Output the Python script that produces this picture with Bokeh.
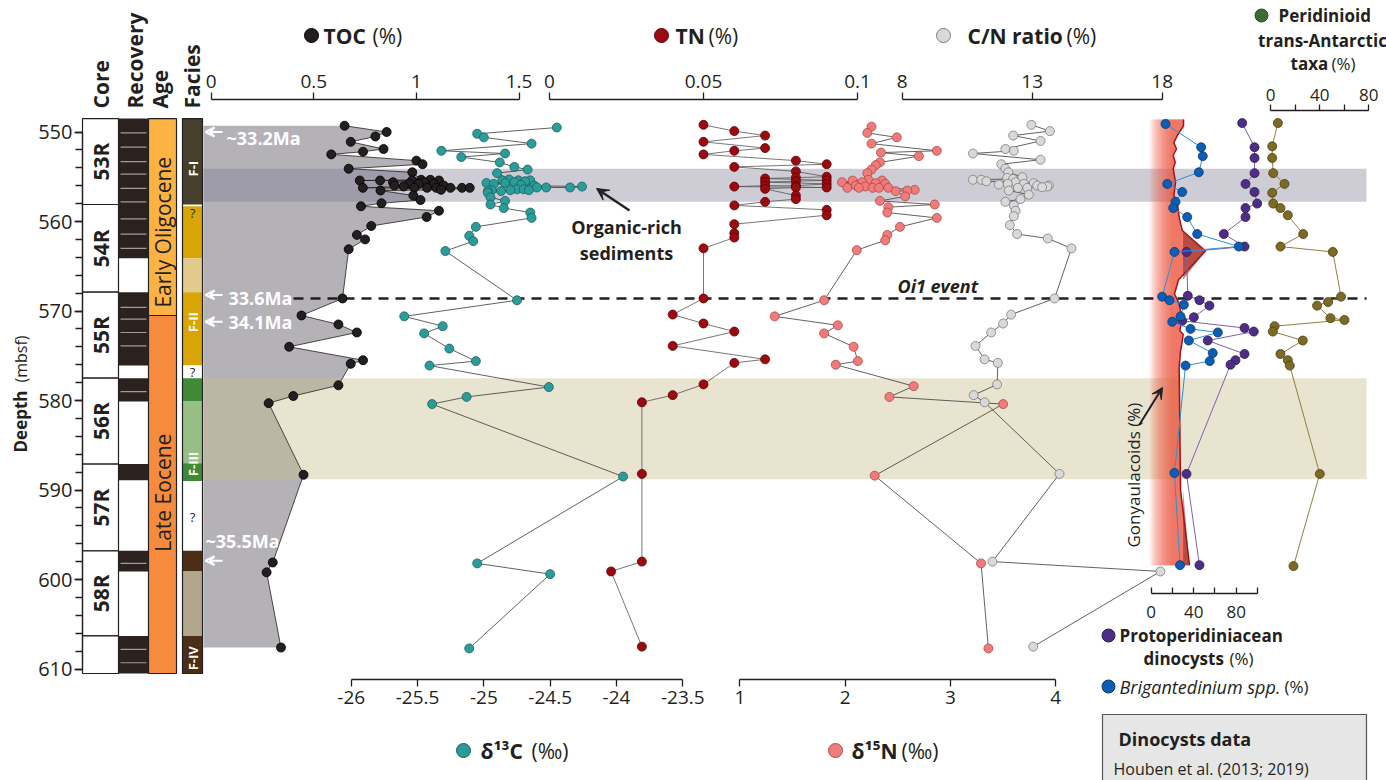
import numpy as np
from bokeh.plotting import figure
from bokeh.models import (Range1d, LinearAxis, FixedTicker, NumeralTickFormatter,
                          SingleIntervalTicker, Arrow, VeeHead)
from bokeh.core.properties import value
from bokeh.embed import file_html
from bokeh.resources import INLINE

# ---------------------------------------------------------------- data
toc_depth = [549.3, 550.0, 550.5, 551.1, 551.9, 552.2, 552.5, 553.2, 553.6, 554.1, 554.5,
             555.34, 555.34, 555.42, 555.42, 555.42, 555.42, 555.61, 555.61, 555.79, 555.79, 555.79,
             555.98, 555.98, 556.09, 556.24, 556.24, 556.24, 556.24, 556.24, 556.24, 556.24, 556.46, 556.54,
             557.1, 557.6, 557.96, 558.3, 558.8, 559.5, 560.5, 561.5, 562.0, 563.1, 568.6, 570.5, 571.5,
             572.4, 574.0, 575.5, 575.9, 578.3, 579.5, 580.3, 588.3, 598.1, 599.2, 607.6]
toc_val = [0.65, 0.855, 0.80, 0.68, 0.84, 0.74, 0.585, 1.00, 1.03, 0.67, 0.98,
           1.023, 1.068, 0.724, 0.823, 0.979, 1.110, 0.886, 1.039, 0.963, 1.011, 1.084,
           0.893, 1.133, 0.938, 0.739, 0.990, 1.052, 1.097, 1.166, 1.222, 1.260, 1.120, 0.825,
           0.985, 1.02, 0.83, 0.73, 1.11, 1.05, 0.78, 0.71, 0.75, 0.67, 0.64, 0.44, 0.62,
           0.71, 0.38, 0.74, 0.68, 0.62, 0.40, 0.28, 0.45, 0.30, 0.27, 0.34]

d13c_depth = [549.5, 550.2, 550.6, 551.3, 552.1, 552.4, 552.8, 553.4, 553.9, 554.2, 554.6,
              555.3, 555.4, 555.4, 555.4, 555.5, 555.6, 555.7, 555.7, 555.8, 555.9, 556.0, 556.1,
              556.2, 556.2, 556.2, 556.4, 556.4, 556.5, 556.5, 556.5, 556.6, 556.6,
              556.8, 557.3, 557.7, 558.1, 558.5, 559.0, 559.6, 560.6, 561.6, 562.2, 563.3, 568.8,
              570.6, 571.7, 572.5, 574.2, 575.6, 576.1, 578.5, 579.6, 580.4, 588.5, 598.2, 599.4, 607.7]
d13c_val = [-24.45, -25.05, -25.00, -24.64, -25.32, -24.84, -25.17, -24.88, -24.77, -24.67, -24.90,
            -24.81, -24.86, -24.74, -24.65, -24.69, -24.77, -24.98, -24.84, -24.925, -24.72, -24.62, -24.26,
            -24.35, -24.60, -24.53, -24.75, -24.70, -24.94, -24.80, -24.66, -24.97, -24.87,
            -24.97, -24.95, -24.84, -24.95, -24.85, -24.65, -24.64, -25.06, -25.11, -25.08, -25.29, -24.75,
            -25.60, -25.31, -25.45, -25.26, -25.06, -25.41, -24.51, -25.13, -25.39, -23.95, -25.05, -24.50, -25.11]

tn_depth = [549.2, 549.9, 550.4, 551.1, 551.8, 552.1, 552.5, 553.2, 553.6, 553.9, 554.4, 555.0,
            555.1, 555.2, 555.4, 555.5, 555.6, 555.8, 556.0, 556.0, 556.1, 556.2, 556.2, 556.35,
            557.1, 557.5, 557.8, 558.2, 558.7, 559.3, 560.3, 561.3, 561.8, 563.0, 568.6, 570.4,
            571.4, 572.3, 573.9, 575.4, 575.8, 578.2, 579.4, 580.2, 588.2, 598.0, 599.1, 607.5]
tn_val = [0.05, 0.06, 0.07, 0.05, 0.07, 0.06, 0.05, 0.08, 0.09, 0.06, 0.08, 0.09,
          0.08, 0.07, 0.09, 0.08, 0.07, 0.09, 0.08, 0.07, 0.06, 0.09, 0.08, 0.07,
          0.08, 0.08, 0.07, 0.06, 0.09, 0.09, 0.06, 0.06, 0.06, 0.05, 0.05, 0.04,
          0.05, 0.06, 0.04, 0.07, 0.06, 0.05, 0.04, 0.03, 0.03, 0.03, 0.02, 0.03]

d15n_depth = [549.4, 550.1, 550.6, 551.3, 552.1, 552.3, 552.7, 553.4, 553.7, 554.2, 554.6,
              555.34, 555.42, 555.42, 555.61, 555.61, 555.72, 555.79, 555.98, 556.09, 556.24, 556.24,
              556.24, 556.24, 556.24, 556.46, 556.54, 556.61,
              557.2, 557.7, 558.1, 558.4, 559.0, 559.6, 560.6, 561.5, 562.1, 563.2, 568.8, 570.6,
              571.6, 572.5, 574.0, 575.6, 576.0, 578.4, 579.6, 580.4, 588.4, 598.2, 607.7]
d15n_val = [2.25, 2.21, 2.49, 2.25, 2.87, 2.34, 2.70, 2.33, 2.29, 2.25, 2.21,
            2.22, 2.07, 2.35, 1.97, 2.16, 2.29, 2.38, 2.10, 2.19, 2.02, 2.13,
            2.26, 2.32, 2.41, 2.66, 2.59, 2.48,
            2.57, 2.33, 2.85, 2.41, 2.40, 2.87, 2.52, 2.40, 2.38, 2.11, 1.80, 1.33,
            1.93, 1.80, 2.08, 2.12, 1.91, 2.65, 2.42, 3.50, 2.28, 3.29, 3.36]

cn_depth = [549.2, 549.9, 550.4, 551.0, 551.9, 552.1, 552.4, 553.1, 553.6, 554.1, 554.5,
            555.05, 555.13, 555.24, 555.34, 555.34, 555.5, 555.61, 555.72, 555.79, 555.79, 555.87,
            555.98, 555.98, 556.09, 556.17, 556.24, 556.24, 556.54,
            557.0, 557.5, 557.8, 558.2, 558.8, 559.4, 560.4, 561.4, 561.9, 563.0, 568.6, 570.4,
            571.4, 572.4, 573.9, 575.4, 575.8, 578.2, 579.4, 580.2, 588.2, 598.0, 599.1, 607.5]
cn_val = [12.97, 13.68, 12.27, 13.32, 11.97, 12.29, 10.72, 13.32, 11.81, 11.97, 12.08,
          12.62, 12.04, 12.27, 10.72, 11.04, 11.24, 12.36, 13.06, 12.06, 12.68, 11.72,
          13.19, 13.64, 13.58, 13.38, 12.45, 12.81, 12.10,
          12.87, 12.55, 11.97, 12.29, 12.36, 12.29, 12.14, 12.42, 13.60, 14.51, 13.86, 12.19,
          11.88, 11.42, 10.82, 11.17, 11.68, 11.65, 10.75, 11.17, 14.05, 11.47, 17.93, 13.04]

proto_depth = [549.0, 551.7, 552.9, 554.6, 555.8, 556.7, 558.0, 558.5, 559.5, 561.4, 562.8, 563.4,
               568.3, 568.8, 569.4, 570.7, 571.1, 571.9, 572.3, 573.3, 574.8, 575.5, 576.0, 588.2, 598.4]
proto_val = [85.6, 97.2, 97.2, 97.2, 88.7, 97.2, 99.7, 88.7, 88.7, 68.3, 87.8, 33.2,
             34.4, 45.4, 54.8, 40.1, 29.2, 87.8, 96.5, 53.2, 87.8, 79.3, 74.6, 33.2, 45.4]

brig_depth = [549.1, 551.7, 552.7, 554.5, 555.8, 556.7, 557.8, 558.5, 559.5, 561.4, 562.8, 563.4,
              568.4, 568.8, 569.3, 570.6, 571.2, 572.0, 572.4, 573.3, 574.7, 575.6, 576.1, 588.1, 598.4]
brig_val = [13.5, 47.0, 48.5, 44.8, 15.1, 29.2, 22.9, 20.7, 33.9, 43.3, 82.4, 21.9,
            10.3, 17.2, 30.7, 27.6, 19.8, 37.0, 62.7, 35.4, 57.9, 55.1, 32.3, 21.9, 27.1]

peri_depth = [549.0, 551.6, 552.9, 554.6, 555.8, 556.8, 558.0, 558.5, 559.3, 561.4, 562.8, 563.4,
              568.4, 569.0, 569.4, 570.8, 571.0, 571.7, 572.3, 573.3, 574.8, 575.5, 576.1, 588.2, 598.5]
peri_val = [6.0, 1.4, 1.4, 2.2, 11.4, 1.4, 2.2, 8.1, 14.1, 26.6, 8.1, 50.7,
            57.4, 46.9, 37.9, 48.8, 60.2, 3.3, 1.9, 26.3, 8.1, 14.1, 15.7, 40.1, 18.7]

gony_depth = [548.6, 549.3, 550.4, 551.2, 551.9, 552.6, 553.4, 554.1, 555.6, 557.1, 557.8, 559.3,
              560.2, 561.0, 563.3, 566.5, 568.1, 569.1, 570.9, 572.2, 572.6, 573.4, 574.5, 576.3,
              590.0, 598.4]
gony_val = [30.4, 30.4, 24.5, 21.3, 23.8, 20.7, 22.6, 20.7, 22.9, 21.3, 24.5, 26.0,
            27.6, 29.2, 51.1, 25.7, 21.9, 26.0, 29.2, 26.9, 30.1, 29.2, 27.6, 26.3,
            27.6, 36.0]

# core / lithology columns
core_names = ["53R", "54R", "55R", "56R", "57R", "58R", ""]
core_top = [548.5, 558.1, 567.9, 577.5, 587.1, 596.8, 606.3]
core_bot = [558.1, 567.9, 577.5, 587.1, 596.8, 606.3, 610.5]
recov_top = [548.5, 567.9, 577.5, 587.1, 596.8, 606.3]
recov_bot = [564.1, 576.1, 580.1, 588.9, 599.1, 610.5]
section_breaks = [550.1, 551.7, 553.3, 554.7, 556.3, 557.8, 559.7, 561.4, 563.0,
                  569.6, 570.9, 572.4, 573.9, 579.0, 598.2, 607.8, 609.3]
age_names = ["Early Oligocene", "Late Eocene"]
age_top = [548.5, 570.5]
age_bot = [570.5, 610.5]
age_label_depth = [561.2, 590.3]
age_colors = ["#fdb344", "#f68b3d"]
facies_top = [548.5, 558.3, 564.1, 567.9, 576.1, 577.5, 580.1, 587.0, 589.0, 596.8, 599.1, 606.3]
facies_bot = [558.1, 564.1, 567.9, 576.1, 577.5, 580.1, 587.0, 589.0, 596.8, 599.1, 606.3, 610.5]
facies_colors = ["#463f2b", "#d9a406", "#e2c98c", "#d9a406", "#ffffff", "#3f8b35", "#95bf84",
                 "#3f8b35", "#ffffff", "#4b2f15", "#b2a68f", "#4b2f15"]
facies_names = ["F-I", "F-II", "F-III", "F-IV"]
facies_name_depth = [554.1, 571.25, 587.1, 608.8]
facies_unknown_depth = [559.0, 576.8, 593.0]
ma_labels = ["~33.2Ma", "33.6Ma", "34.1Ma", "~35.5Ma"]
ma_depth = [550.0, 568.2, 571.2, 597.9]
organic_band = (554.1, 557.8)
beige_band = (577.5, 588.8)
oi1_depth = 568.6

# ---------------------------------------------------------------- layout helpers
FONT = "Open Sans"
INK = "#231f20"
FX0, FX1 = 0.0, 1386.0          # frame (reference pixel columns)
FY0, FY1 = 0.0, 780.0           # frame (reference pixel rows)
Y550, PPM = 131.5, 8.95


def D(py):
    return 550.0 + (py - Y550) / PPM


def track(v0, p0, v1, p1):
    k = (p1 - p0) / (v1 - v0)
    return Range1d(start=v0 + (FX0 - p0) / k, end=v0 + (FX1 - p0) / k)


p = figure(width=1386, height=780, x_range=Range1d(FX0, FX1), y_range=Range1d(D(FY1), D(FY0)),
           output_backend="svg", toolbar_location=None, x_axis_location=None, y_axis_location=None,
           min_border_left=0, min_border_right=0, min_border_top=0, min_border_bottom=0)
p.outline_line_color = None
p.grid.visible = False
p.background_fill_color = "white"

p.extra_x_ranges = {
    "toc": track(0, 210.7, 1.5, 518.5),
    "d13c": track(-26, 350.7, -23.5, 682.3),
    "tn": track(0, 549.0, 0.1, 857.0),
    "d15n": track(1, 739.4, 4, 1055.3),
    "cn": track(8, 901.7, 18, 1161.7),
    "dino": track(0, 1150.7, 100, 1257.0),
    "peri": track(0, 1270.0, 80, 1368.3),
}


def txt(x, py, s, size, style="normal", color=INK, align="left", baseline="middle", angle=0.0):
    p.text(x=[x], y=[D(py)], text=[s], text_font=value(FONT), text_font_size=f"{size}px",
           text_font_style=style, text_color=color, text_align=align, text_baseline=baseline,
           angle=angle)


def add_axis(rng, side, loc_py, ticks, minor, bounds, size, tick_in=0, tick_out=7, standoff=4):
    ax = LinearAxis(x_range_name=rng, fixed_location=D(loc_py), bounds=bounds,
                    ticker=FixedTicker(ticks=ticks, minor_ticks=minor),
                    formatter=NumeralTickFormatter(format="0.[00]"),
                    axis_line_color=INK, axis_line_width=1.3,
                    major_tick_line_color=INK, major_tick_line_width=1.3,
                    minor_tick_line_color=INK, minor_tick_line_width=1.3,
                    major_tick_in=tick_in, major_tick_out=tick_out,
                    minor_tick_in=tick_in, minor_tick_out=tick_out,
                    major_label_text_font=FONT, major_label_text_font_size=f"{size}px",
                    major_label_text_color=INK, major_label_standoff=standoff)
    p.add_layout(ax, side)


# ---------------------------------------------------------------- background fills
p.harea(x1=-0.0375, x2=toc_val, y=toc_depth, x_range_name="toc", fill_color="#b4b2b7")
p.quad(left=203, right=1366, top=organic_band[0], bottom=organic_band[1],
       fill_color="#77758c", fill_alpha=0.36, line_color=None)
p.quad(left=203, right=1366, top=beige_band[0], bottom=beige_band[1],
       fill_color="#c8be8c", fill_alpha=0.42, line_color=None)

# Gonyaulacoids area with soft gradient
for s in [-1, 1, 3, 5, 7, 9, 11, 13, 15, 17, 19]:
    p.harea(x1=s, x2=gony_val, y=gony_depth, x_range_name="dino",
            fill_color="#f0563e", fill_alpha=0.13)
p.harea(x1=30, x2=np.maximum(np.array(gony_val), 30), y=gony_depth, x_range_name="dino",
        fill_color="#8a2a24", fill_alpha=0.55)
p.line(gony_val, gony_depth, x_range_name="dino", line_color="#a3141a", line_width=1.5)

# Oi1 dashed line
p.segment(x0=[293], x1=[1366], y0=[oi1_depth], y1=[oi1_depth], line_color=INK,
          line_width=2.6, line_dash="10 7")

# ---------------------------------------------------------------- left columns
p.quad(left=82, right=118, top=core_top, bottom=core_bot, fill_color="white",
       line_color=INK, line_width=1.2)
p.quad(left=118, right=148, top=recov_top, bottom=recov_bot, fill_color="#2b2220",
       line_color=None)
p.segment(x0=120, x1=146, y0=section_breaks, y1=section_breaks, line_color="#9d9d9d",
          line_width=1.2)
p.quad(left=148, right=176, top=age_top, bottom=age_bot, fill_color=age_colors,
       line_color=INK, line_width=1.2)
p.quad(left=182, right=202, top=facies_top, bottom=facies_bot, fill_color=facies_colors,
       line_color=None)
p.quad(left=[182], right=[202], top=[548.5], bottom=[610.5], fill_color=None,
       line_color=INK, line_width=1.2)

core_mid = [(a + b) / 2 for a, b in zip(core_top, core_bot)]
p.text(x=100, y=core_mid, text=core_names, text_font=value(FONT), text_font_size="21px",
       text_font_style="bold", text_color=INK, text_align="center", text_baseline="middle",
       angle=np.pi / 2)
p.text(x=162, y=age_label_depth, text=age_names, text_font=value(FONT), text_font_size="21px",
       text_color=INK, text_align="center", text_baseline="middle", angle=np.pi / 2)
p.text(x=192, y=facies_name_depth, text=facies_names, text_font=value(FONT),
       text_font_size="13px", text_font_style="bold", text_color="white", text_align="center",
       text_baseline="middle", angle=np.pi / 2)
p.text(x=192, y=facies_unknown_depth, text=["?"] * 3, text_font=value(FONT),
       text_font_size="13px", text_color=INK, text_align="center", text_baseline="middle")

# headers
for xh, lab in [(100, "Core"), (134, "Recovery"), (159, "Age"), (191, "Facies")]:
    txt(xh, 108, lab, 21, "bold", angle=np.pi / 2)

# depth axis
yax = LinearAxis(fixed_location=82, bounds=(550, 610),
                 ticker=SingleIntervalTicker(interval=10, num_minor_ticks=5),
                 axis_line_color=INK, axis_line_width=1.3,
                 major_tick_line_color=INK, major_tick_line_width=1.3,
                 minor_tick_line_color=INK, minor_tick_line_width=1.3,
                 major_tick_in=0, major_tick_out=8, minor_tick_in=0, minor_tick_out=7,
                 major_label_text_font=FONT, major_label_text_font_size="20px",
                 major_label_text_color=INK, major_label_standoff=2)
p.add_layout(yax, "left")
txt(20, 452, "Deepth", 17, "bold", angle=np.pi / 2)
txt(20, 382, "(mbsf)", 16, angle=np.pi / 2)

# age ties (white arrows)
ma_text_pos = [(226, 137), (228, 297), (228, 321), (205, 540)]
for d, lab, (tx, ty) in zip(ma_depth, ma_labels, ma_text_pos):
    p.add_layout(Arrow(end=VeeHead(size=9, line_color="white", line_width=2, fill_color=None),
                       x_start=222, x_end=205, y_start=d, y_end=d,
                       line_color="white", line_width=2))
    txt(tx, ty, lab, 18, "bold", color="white")

# ---------------------------------------------------------------- series
LINE = "#3a3a3a"


def series(xv, yv, rng, fill, edge, line_color=LINE, lw=0.8, size=9):
    p.line(xv, yv, x_range_name=rng, line_color=line_color, line_width=lw)
    p.scatter(xv, yv, x_range_name=rng, size=size, fill_color=fill, line_color=edge,
              line_width=0.8)


series(toc_val, toc_depth, "toc", "#231f20", "#000000", line_color="#231f20")
series(d13c_val, d13c_depth, "d13c", "#2a9d9b", "#1d5e5d")
series(tn_val, tn_depth, "tn", "#9b0a10", "#5a0006", line_color="#555555")
series(d15n_val, d15n_depth, "d15n", "#f07b7b", "#b04848")
series(cn_val, cn_depth, "cn", "#d9d9d9", "#7c7c7c")
series(proto_val, proto_depth, "dino", "#4e2d86", "#2d1a50", line_color="#7b63b0", lw=1.0)
series(brig_val, brig_depth, "dino", "#0c5db5", "#07386d", line_color="#2f8fd8", lw=1.0)
series(peri_val, peri_depth, "peri", "#7c6b26", "#4a3f12", line_color="#8f7f3f", lw=1.0)

# ---------------------------------------------------------------- axes
add_axis("toc", "above", 98.5, [0, 0.5, 1, 1.5], [], (0, 1.5), 19)
add_axis("tn", "above", 98.5, [0, 0.05, 0.1], [], (0, 0.1), 19)
add_axis("cn", "above", 98.5, [8, 13, 18], [], (8, 18), 19)
add_axis("peri", "above", 110, [0, 40, 80], [20, 60], (0, 80), 17, tick_out=6)
add_axis("d13c", "below", 679, [-26, -25.5, -25, -24.5, -24, -23.5], [], (-26, -23.5), 19)
add_axis("d15n", "below", 679, [1, 2, 3, 4], [], (1, 4), 19)
add_axis("dino", "below", 593, [0, 40, 80], [20, 60, 100], (0, 100), 17, tick_in=6,
         tick_out=0, standoff=12)


# ---------------------------------------------------------------- titles / legends
def dot(x, py, fill, edge, size=14):
    p.scatter([x], [D(py)], size=size, fill_color=fill, line_color=edge, line_width=1)


dot(311, 35, "#231f20", "#000000")
txt(323, 35, "TOC", 21, "bold"); txt(372, 35, "(%)", 21)
dot(661, 35, "#9b0a10", "#5a0006")
txt(675, 35, "TN", 21, "bold"); txt(708, 35, "(%)", 21)
dot(943, 35, "#d9d9d9", "#7c7c7c")
txt(967, 35, "C/N ratio", 21, "bold"); txt(1066, 35, "(%)", 21)
dot(1261, 15, "#3e6b35", "#2c4d25", 13)
txt(1278, 15, "Peridinioid", 17, "bold")
txt(1322, 40, "trans-Antarctic", 17, "bold", align="center")
txt(1290, 63, "taxa", 17, "bold"); txt(1331, 63, "(%)", 17)

dot(463, 750, "#2a9d9b", "#1d5e5d")
txt(480, 750, "δ¹³C", 21, "bold"); txt(531, 750, "(‰)", 21)
dot(835, 750, "#f07b7b", "#b04848")
txt(851, 750, "δ¹⁵N", 21, "bold"); txt(901, 750, "(‰)", 21)

dot(1108, 635, "#4e2d86", "#2d1a50", 13)
txt(1119, 635, "Protoperidiniacean", 17, "bold")
txt(1143, 658, "dinocysts", 17, "bold"); txt(1229, 658, "(%)", 17)
dot(1108, 686, "#0c5db5", "#07386d", 13)
txt(1119, 686, "Brigantedinium spp.", 18, "italic"); txt(1284, 686, "(%)", 17)

p.quad(left=[1102], right=[1366], top=[D(714)], bottom=[D(790)], fill_color="#e6e6e6",
       line_color="#555555", line_width=1.2)
txt(1118, 738, "Dinocysts data", 18, "bold")
txt(1113, 768, "Houben et al. (2013; 2019)", 16)

# annotations
txt(626, 226, "Organic-rich", 18, "bold", align="center")
txt(626, 252, "sediments", 18, "bold", align="center")
p.add_layout(Arrow(end=VeeHead(size=12, fill_color=INK, line_color=INK),
                   x_start=629, y_start=D(210), x_end=596, y_end=D(188),
                   line_color=INK, line_width=2.2))
txt(897, 285, "Oi1 event", 18, "bold italic")
txt(1133, 547, "Gonyaulacoids (%)", 17, angle=np.pi / 2)
p.add_layout(Arrow(end=VeeHead(size=11, fill_color=INK, line_color=INK),
                   x_start=1139, y_start=D(424), x_end=1162, y_end=D(387),
                   line_color=INK, line_width=2.0))

open("out.html", "w").write(file_html(p, INLINE))
